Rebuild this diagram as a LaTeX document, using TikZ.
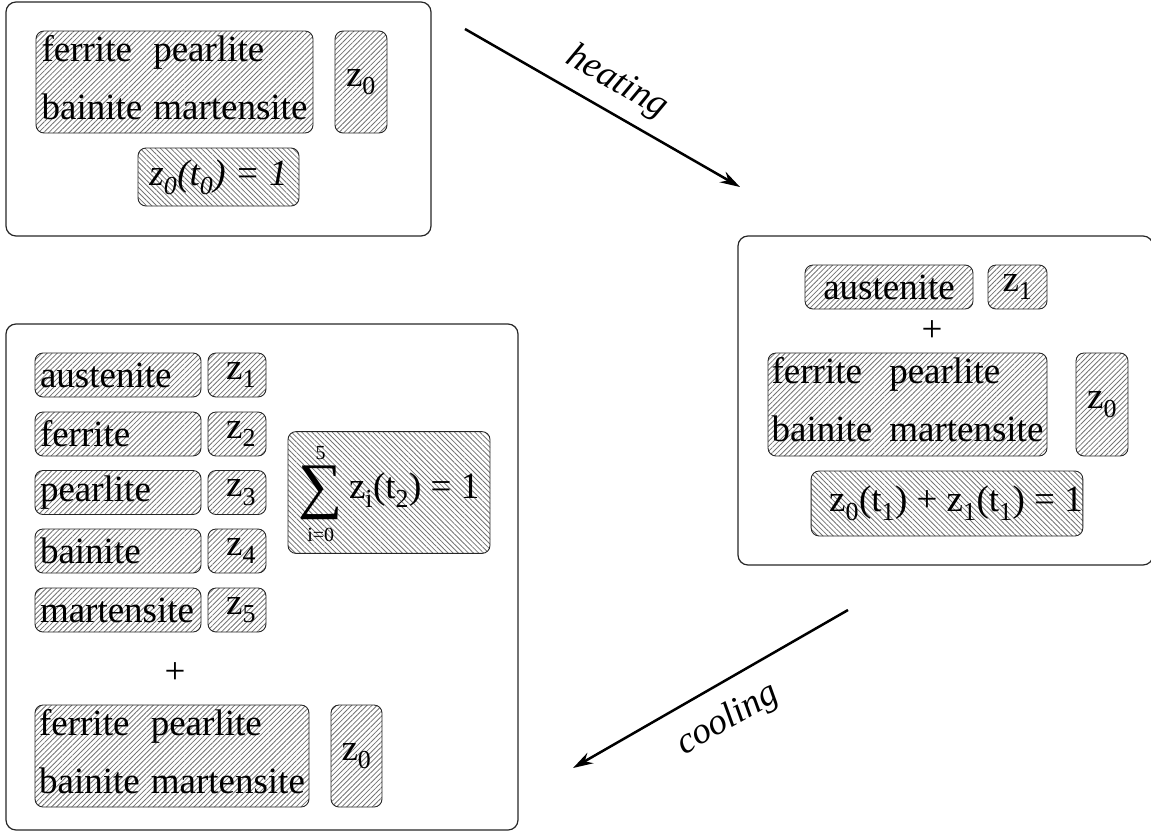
\documentclass[tikz,border=0pt]{standalone}
\usepackage{fontspec}
\setmainfont{Liberation Serif}
\usetikzlibrary{calc, positioning, patterns.meta, arrows.meta}

\begin{document}
\begin{tikzpicture}[
        x=1pt, y=-1pt,
        font=\fontsize{37}{40}\selectfont,
        frame/.style={
            draw=black!85, line width=1.2pt, rounded corners=10pt,
            inner sep=0pt
        },
        hbox/.style={
            draw=black!85, line width=0.9pt, rounded corners=8pt,
            inner sep=0pt,
            pattern={Lines[angle=45, distance=3.6pt, line width=0.8pt]},
            pattern color=black!55
        },
        fbox/.style={
            hbox,
            pattern={Lines[angle=-45, distance=3.6pt, line width=0.8pt]}
        },
        rowbox/.style={
            hbox, minimum width=166pt, minimum height=44pt,
            text width=156pt, align=left
        },
        zbox/.style={
            hbox, minimum width=58pt, minimum height=44pt,
            text width=38pt, align=right
        },
        line/.style={draw, line width=2.5pt, -{Stealth[length=20pt, width=12pt]}}
    ]
    \useasboundingbox (0,0) rectangle (1151,833);

    % Start state
    \node[frame, minimum width=425pt, minimum height=234pt] (start) at (218.5,119) {};
    \node[hbox, minimum width=277pt, minimum height=102pt] (startmix) at (174.5,82)
        {\begin{tabular}{@{}l@{\hspace{11pt}}l@{}}ferrite & pearlite\\[18pt] bainite & martensite\end{tabular}};
    \node[hbox, minimum width=52pt, minimum height=102pt] (startz) at (361,82) {z\textsubscript{0}};
    \node[fbox, minimum width=161pt, minimum height=58pt] (startsum) at (218.5,177)
        {\textit{z\textsubscript{0}(t\textsubscript{0}) = 1}};

    % Heated state
    \node[frame, minimum width=415pt, minimum height=329pt] (heat) at (945.5,400.5) {};
    \node[hbox, minimum width=168pt, minimum height=44pt] (heataus) at (889,287) {austenite};
    \node[hbox, minimum width=59pt, minimum height=44pt] (heatzi) at (1017.5,287) {z\textsubscript{1}};
    \node (heatplus) at (932,331) {+};
    \node[hbox, minimum width=279pt, minimum height=103pt] (heatmix) at (907.5,404.5)
        {\begin{tabular}{@{}l@{\hspace{17pt}}l@{}}ferrite & pearlite\\[18pt] bainite & martensite\end{tabular}};
    \node[hbox, minimum width=52pt, minimum height=103pt] (heatz) at (1102,404.5) {z\textsubscript{0}};
    \node[fbox, minimum width=256pt, minimum height=65pt] (heatsum) at (947,503.5)
        {\hspace{18pt}z\textsubscript{0}(t\textsubscript{1}) + z\textsubscript{1}(t\textsubscript{1}) = 1};

    % Cooled state
    \node[frame, minimum width=512pt, minimum height=506pt] (cool) at (262,577) {};
    \node[rowbox] (coolaus) at (118,375) {austenite};
    \node[zbox] (coolza) at (237,375) {z\textsubscript{1}};
    \node[rowbox] (coolfer) at (118,434) {ferrite};
    \node[zbox] (coolzb) at (237,434) {z\textsubscript{2}};
    \node[rowbox] (coolpea) at (118,492.5) {pearlite};
    \node[zbox] (coolzc) at (237,492.5) {z\textsubscript{3}};
    \node[rowbox] (coolbai) at (118,551) {bainite};
    \node[zbox] (coolzd) at (237,551) {z\textsubscript{4}};
    \node[rowbox] (coolmar) at (118,610) {martensite};
    \node[zbox] (coolze) at (237,610) {z\textsubscript{5}};
    \node[fbox, minimum width=202pt, minimum height=103pt] (coolsum) at (389,492.5)
        {\begin{tabular}{@{}c@{}}{\fontsize{20}{20}\selectfont 5}\\[-6pt]
         {\fontsize{62}{62}\selectfont ∑}\\[-6pt]{\fontsize{20}{20}\selectfont i=0}\end{tabular}\,%
         z\textsubscript{i}(t\textsubscript{2}) = 1};
    \node (coolplus) at (175,673) {+};
    \node[hbox, minimum width=274pt, minimum height=102pt] (coolmix) at (172,756)
        {\begin{tabular}{@{}l@{\hspace{11pt}}l@{}}ferrite & pearlite\\[18pt] bainite & martensite\end{tabular}};
    \node[hbox, minimum width=51pt, minimum height=102pt] (coolz) at (356.5,756) {z\textsubscript{0}};

    % Transitions
    \coordinate (heatfrom) at (465,29);
    \coordinate (heatto) at (740,187);
    \coordinate (coolfrom) at (848,610);
    \coordinate (coolto) at (573,768);
    \draw[line] (heatfrom) -- node[sloped, above=8pt] {\textit{heating}} (heatto);
    \draw[line] (coolfrom) -- node[sloped, below=14pt] {\textit{cooling}} (coolto);

\end{tikzpicture}
\end{document}
